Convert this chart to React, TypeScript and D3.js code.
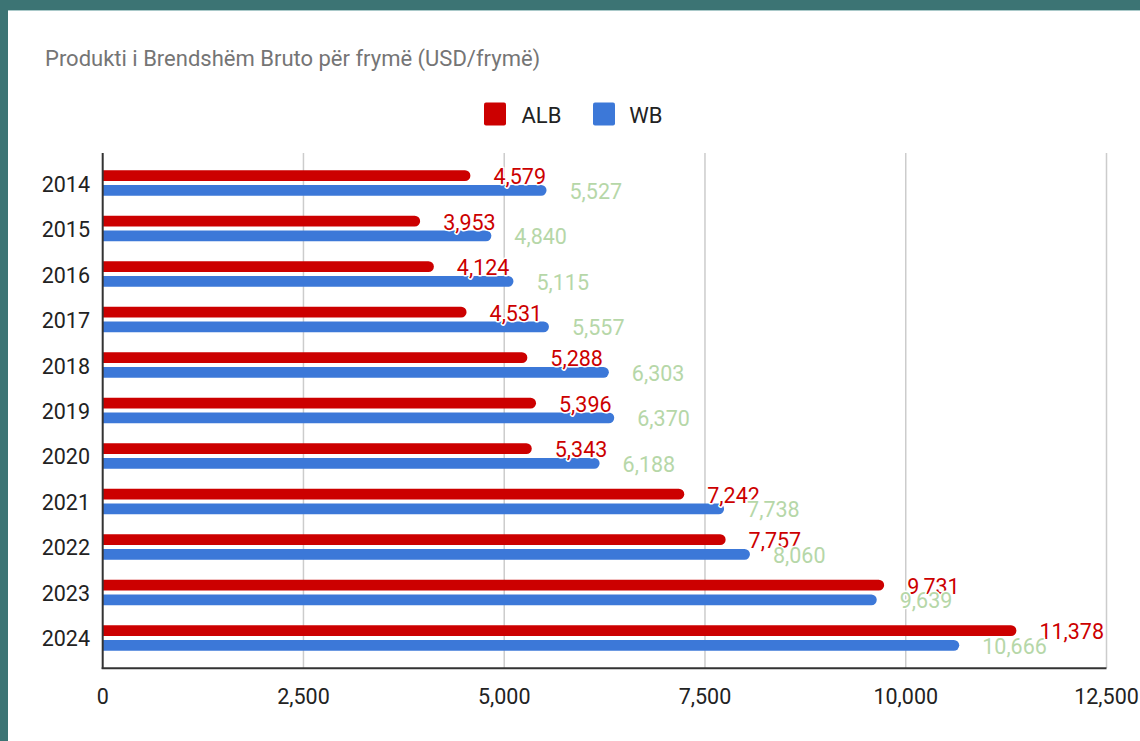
import React from "react";
import * as d3 from "d3";

const years = ["2014", "2015", "2016", "2017", "2018", "2019", "2020", "2021", "2022", "2023", "2024"];
const albValues = [4579, 3953, 4124, 4531, 5288, 5396, 5343, 7242, 7757, 9731, 11378];
const wbValues = [5527, 4840, 5115, 5557, 6303, 6370, 6188, 7738, 8060, 9639, 10666];
const seriesNames = ["ALB", "WB"];
const xTicks = [0, 2500, 5000, 7500, 10000, 12500];
const title = "Produkti i Brendshëm Bruto për frymë (USD/frymë)";

const W = 1140;
const H = 741;
const FONT = "Roboto, 'Noto Sans', Arial, sans-serif";
const RED = "#cc0000";
const BLUE = "#3c78d8";
const GREEN = "#b6d7a8";

export default function App() {
  const x = d3.scaleLinear().domain([0, 12500]).range([102.7, 1106.5]);
  const yTop = 153;
  const yBottom = 668;
  const y0 = d3.scaleBand<string>().domain(years).range([yTop, yBottom]).paddingInner(0.44).paddingOuter(0.38);
  const y1 = d3.scaleBand<string>().domain(seriesNames).range([0, y0.bandwidth()]).paddingInner(0.26);
  const colors: Record<string, string> = { ALB: RED, WB: BLUE };
  const labelColors: Record<string, string> = { ALB: RED, WB: GREEN };
  const valuesBy: Record<string, number[]> = { ALB: albValues, WB: wbValues };
  const fmt = d3.format(",");

  const barPath = (x0: number, x1: number, yy: number, h: number) => {
    const r = Math.min(h / 2, Math.max(0, x1 - x0));
    const p = d3.path();
    p.moveTo(x0, yy);
    p.lineTo(x1 - r, yy);
    p.arc(x1 - r, yy + h / 2, h / 2, -Math.PI / 2, Math.PI / 2);
    p.lineTo(x0, yy + h);
    p.closePath();
    return p.toString();
  };

  return (
    <svg
      width={W}
      height={H}
      style={{ position: "fixed", left: 0, top: 0, display: "block" }}
      fontFamily={FONT}
    >
      <rect x={0} y={0} width={W} height={H} fill="#3c7474" />
      <rect x={8} y={10} width={W - 8} height={H - 10} fill="#ffffff" />
      <line x1={8} x2={W} y1={10.5} y2={10.5} stroke="#a9c9c9" strokeWidth={1} />

      <text x={45} y={65.5} fontSize={22} fill="#757575">{title}</text>

      {/* legend */}
      <rect x={484} y={102.5} width={22} height={23} rx={2} fill={RED} />
      <text x={521.5} y={122.5} fontSize={22} fill="#222">ALB</text>
      <rect x={593} y={102.5} width={22} height={23} rx={2} fill={BLUE} />
      <text x={629.3} y={122.5} fontSize={22} fill="#222">WB</text>

      {/* grid */}
      {xTicks.slice(1).map((t) => (
        <line key={t} x1={x(t)} x2={x(t)} y1={yTop} y2={yBottom} stroke="#cccccc" strokeWidth={1.5} />
      ))}

      {/* bars */}
      {years.map((yr, i) => (
        <g key={yr}>
          {seriesNames.map((s) => (
            <path
              key={s}
              d={barPath(x(0), x(valuesBy[s][i]), (y0(yr) as number) + (y1(s) as number), y1.bandwidth())}
              fill={colors[s]}
            />
          ))}
        </g>
      ))}

      {/* axes */}
      <line x1={x(0)} x2={x(0)} y1={yTop} y2={yBottom + 1} stroke="#333" strokeWidth={2} />
      <line x1={x(0) - 1} x2={x(12500)} y1={yBottom + 0.3} y2={yBottom + 0.3} stroke="#333" strokeWidth={2} />

      {/* labels */}
      {years.map((yr, i) => (
        <g key={"l" + yr}>
          {seriesNames.map((s) => {
            const cy = (y0(yr) as number) + (y1(s) as number) + y1.bandwidth() / 2;
            return (
              <text
                key={s}
                x={x(valuesBy[s][i]) + 23}
                y={cy + 8.5}
                fontSize={21.5}
                fill={labelColors[s]}
                stroke="#ffffff"
                strokeWidth={3}
                strokeLinejoin="round"
                paintOrder="stroke"
              >
                {fmt(valuesBy[s][i])}
              </text>
            );
          })}
        </g>
      ))}

      {/* year labels */}
      {years.map((yr) => (
        <text
          key={"y" + yr}
          x={90}
          y={(y0(yr) as number) + y0.bandwidth() / 2 + 8.5}
          textAnchor="end"
          fontSize={21.5}
          fill="#222"
        >
          {yr}
        </text>
      ))}

      {/* x tick labels */}
      {xTicks.map((t) => (
        <text key={"t" + t} x={x(t)} y={704.3} textAnchor="middle" fontSize={21.5} fill="#222">
          {fmt(t)}
        </text>
      ))}
    </svg>
  );
}
